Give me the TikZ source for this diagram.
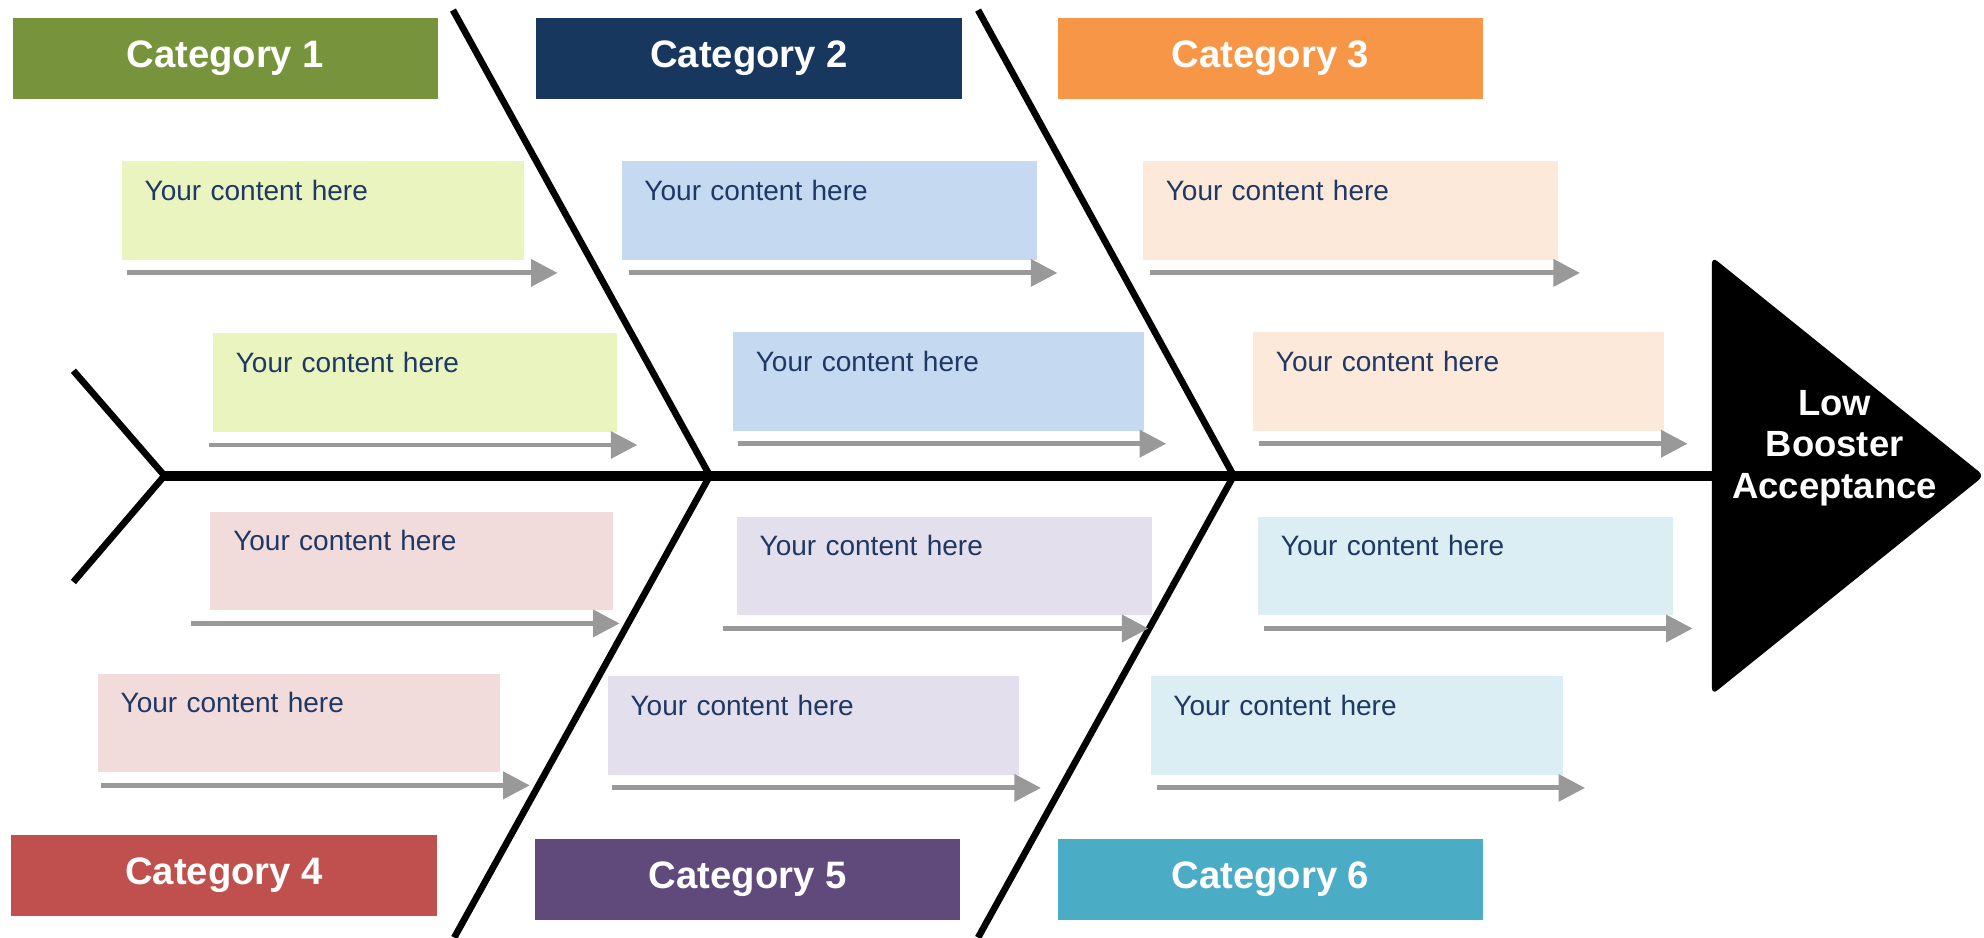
\documentclass[tikz,border=0pt]{standalone}
\usepackage{fontspec}
\setmainfont{Liberation Sans}
\usetikzlibrary{arrows.meta}

\definecolor{catone}{RGB}{119,147,60}
\definecolor{cattwo}{RGB}{23,55,94}
\definecolor{catthree}{RGB}{247,150,70}
\definecolor{catfour}{RGB}{192,80,77}
\definecolor{catfive}{RGB}{96,74,123}
\definecolor{catsix}{RGB}{75,172,198}
\definecolor{lgreen}{RGB}{233,244,191}
\definecolor{lblue}{RGB}{197,217,241}
\definecolor{lpeach}{RGB}{252,233,218}
\definecolor{lpink}{RGB}{242,219,219}
\definecolor{llilac}{RGB}{228,223,236}
\definecolor{lcyan}{RGB}{218,238,243}
\definecolor{txtblue}{RGB}{31,56,100}
\definecolor{arrowgrey}{RGB}{153,153,153}

\begin{document}
\begin{tikzpicture}[
catbox/.style={fill=#1, text=white, minimum width=6.72cm, minimum height=1.28cm,
  font=\fontsize{17.2}{20}\selectfont\bfseries},
causebox/.style={fill=#1, anchor=north west, align=left, inner xsep=0.36cm,
  inner ysep=0pt, text height=0.62cm, text depth=0.94cm, text=txtblue,
  font=\fontsize{12.6}{15}\selectfont},
greyarrow/.style={draw=arrowgrey, line width=2.2pt,
  -{Triangle[length=0.42cm,width=0.42cm]}},
bone/.style={line width=3pt},
spine/.style={line width=4.4pt}
]
\useasboundingbox (0,0) rectangle (31.36,14.82);

% skeleton
\coordinate (tail) at (2.60,7.30);
\coordinate (j1) at (11.22,7.30);
\coordinate (j2) at (19.50,7.30);
\coordinate (headl) at (27.06,7.30);
\draw[spine] (tail) -- (headl);
\draw[bone] (1.16,8.96) -- (tail) -- (1.16,5.62);
\draw[bone] (7.16,14.66) -- (j1) -- (7.18,0);
\draw[bone] (15.46,14.66) -- (j2) -- (15.46,0);

% head
\fill[rounded corners=3pt] (27.06,10.76) -- (31.36,7.30) -- (27.06,3.84) -- cycle;
\node[align=center, text=white, font=\fontsize{16.4}{18.7}\selectfont\bfseries]
  (effect) at (29.0,7.74) {Low\\Booster\\Acceptance};

% categories
\node[catbox=catone] (cat1) at (3.56,13.90) {Category 1};
\node[catbox=cattwo] (cat2) at (11.84,13.90) {Category 2};
\node[catbox=catthree] (cat3) at (20.08,13.90) {Category 3};
\node[catbox=catfour] (cat4) at (3.54,0.98) {Category 4};
\node[catbox=catfive] (cat5) at (11.82,0.92) {Category 5};
\node[catbox=catsix] (cat6) at (20.08,0.92) {Category 6};

% causes with their arrows
\foreach \nm/\x/\y/\w/\col/\a/\b in {
  a1/1.92/12.28/6.36/lgreen/0.08/0.52,
  b1/9.82/12.28/6.56/lblue/0.12/0.32,
  c1/18.06/12.28/6.56/lpeach/0.12/0.34,
  a2/3.36/9.56/6.38/lgreen/-0.06/0.32,
  b2/11.58/9.58/6.50/lblue/0.08/0.34,
  c2/19.80/9.58/6.50/lpeach/0.10/0.36,
  a3/3.32/6.74/6.36/lpink/-0.30/0.10,
  b3/11.64/6.66/6.56/llilac/-0.22/-0.06,
  c3/19.88/6.66/6.56/lcyan/0.10/0.30,
  a4/1.54/4.18/6.36/lpink/0.06/0.46,
  b4/9.60/4.14/6.50/llilac/0.08/0.34,
  c4/18.18/4.14/6.52/lcyan/0.10/0.34}
{
  \pgfmathsetmacro\tw{\w-0.72}
  \node[causebox=\col, text width=\tw cm] (\nm) at (\x,\y) {Your content here};
  \draw[greyarrow] ([xshift=\a cm, yshift=-0.2cm]\nm.south west)
    -- ([xshift=\b cm, yshift=-0.2cm]\nm.south east);
}

\end{tikzpicture}
\end{document}
